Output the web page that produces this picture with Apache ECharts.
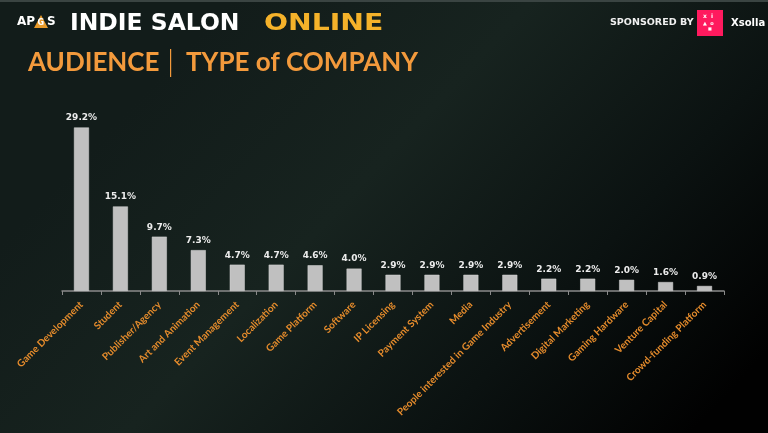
<!DOCTYPE html>
<html><head><meta charset="utf-8">
<script src="https://cdn.jsdelivr.net/npm/echarts@6/dist/echarts.min.js"></script>
<style>html,body{margin:0;padding:0;background:#000}#c{width:768px;height:433px}</style>
</head><body><div id="c"></div>
<script>
const categories = ["Game Development","Student","Publisher/Agency","Art and Animation","Event Management","Localization","Game Platform","Software","IP Licensing","Payment System","Media","People interested in Game Industry","Advertisement","Digital Marketing","Gaming Hardware","Venture Capital","Crowd-funding Platform"];
const shares = [29.2,15.1,9.7,7.3,4.7,4.7,4.6,4.0,2.9,2.9,2.9,2.9,2.2,2.2,2.0,1.6,0.9];

const chart = echarts.init(document.getElementById('c'), null, {renderer:'canvas'});
chart.setOption({
  animation:false,
  backgroundColor:{type:'linear',x:0.3,y:0,x2:0.9,y2:1,colorStops:[
    {offset:0,color:'#121c1a'},{offset:0.35,color:'#17231f'},{offset:0.7,color:'#0b1211'},{offset:1,color:'#010101'}]},
  grid:{left:62,right:44,top:123,bottom:142},
  xAxis:{type:'category',data:categories,
    axisLine:{lineStyle:{color:'#8a8a8a',width:1.5}},
    axisTick:{show:true,length:4,lineStyle:{color:'#8a8a8a'}},
    axisLabel:{rotate:45,interval:0,color:'#e68c2c',fontFamily:'Lato',fontWeight:'bold',fontSize:10,margin:12}},
  yAxis:{type:'value',min:0,max:30,show:false,splitLine:{show:false}},
  series:[{type:'bar',data:shares,barWidth:15,
    itemStyle:{color:'#c0c0c0',borderColor:'#d8d8d8',borderWidth:0.5},
    label:{show:true,position:'top',distance:5,color:'#ececec',fontFamily:'DejaVu Sans',fontWeight:'bold',fontSize:9,
      formatter:p=>p.value.toFixed(1)+'%'}}],
  graphic:[
    {type:'rect',shape:{x:0,y:0,width:768,height:2},style:{fill:'#3a4442'}},
    {type:'text',x:17,y:16,style:{text:'AP',fill:'#ffffff',font:'bold 12px "DejaVu Sans"'}},
    {type:'polygon',shape:{points:[[34,28],[41,15],[48,28]]},style:{fill:'#e89a2a'}},
    {type:'text',x:37.5,y:18.5,style:{text:'G',fill:'#ffffff',font:'bold 8px "DejaVu Sans"'}},
    {type:'text',x:47,y:16,style:{text:'S',fill:'#ffffff',font:'bold 12px "DejaVu Sans"'}},
    {type:'text',x:70,y:13,scaleX:1.02,style:{text:'INDIE SALON',fill:'#ffffff',font:'bold 23px "DejaVu Sans"'}},
    {type:'text',x:264,y:13,scaleX:1.23,style:{text:'ONLINE',fill:'#f5b22a',font:'bold 23px "DejaVu Sans"'}},
    {type:'text',x:28,y:50,style:{text:'AUDIENCE',fill:'#f39a3c',font:'bold 26px "Lato"'}},
    {type:'rect',shape:{x:170,y:49,width:1.2,height:28},style:{fill:'#f39a3c'}},
    {type:'text',x:186,y:50,style:{text:'TYPE of COMPANY',fill:'#f39a3c',font:'bold 26px "Lato"'}},
    {type:'text',x:610,y:18,scaleX:1.12,style:{text:'SPONSORED BY',fill:'#f0f0f0',font:'bold 8.5px "DejaVu Sans"'}},
    {type:'rect',shape:{x:697,y:10,width:26,height:26},style:{fill:'#ff1a5e'}},
    {type:'text',x:703,y:13,style:{text:'x  i',fill:'#ffffff',font:'bold 6px "DejaVu Sans"'}},
    {type:'text',x:703,y:21,style:{text:'\u25B2  o',fill:'#ffffff',font:'bold 5px "DejaVu Sans"'}},
    {type:'text',x:708,y:27,style:{text:'\u25A0',fill:'#ffffff',font:'bold 4px "DejaVu Sans"'}},
    {type:'text',x:731,y:18,style:{text:'Xsolla',fill:'#ffffff',font:'bold 10px "DejaVu Sans"'}}
  ]
});
</script></body></html>
